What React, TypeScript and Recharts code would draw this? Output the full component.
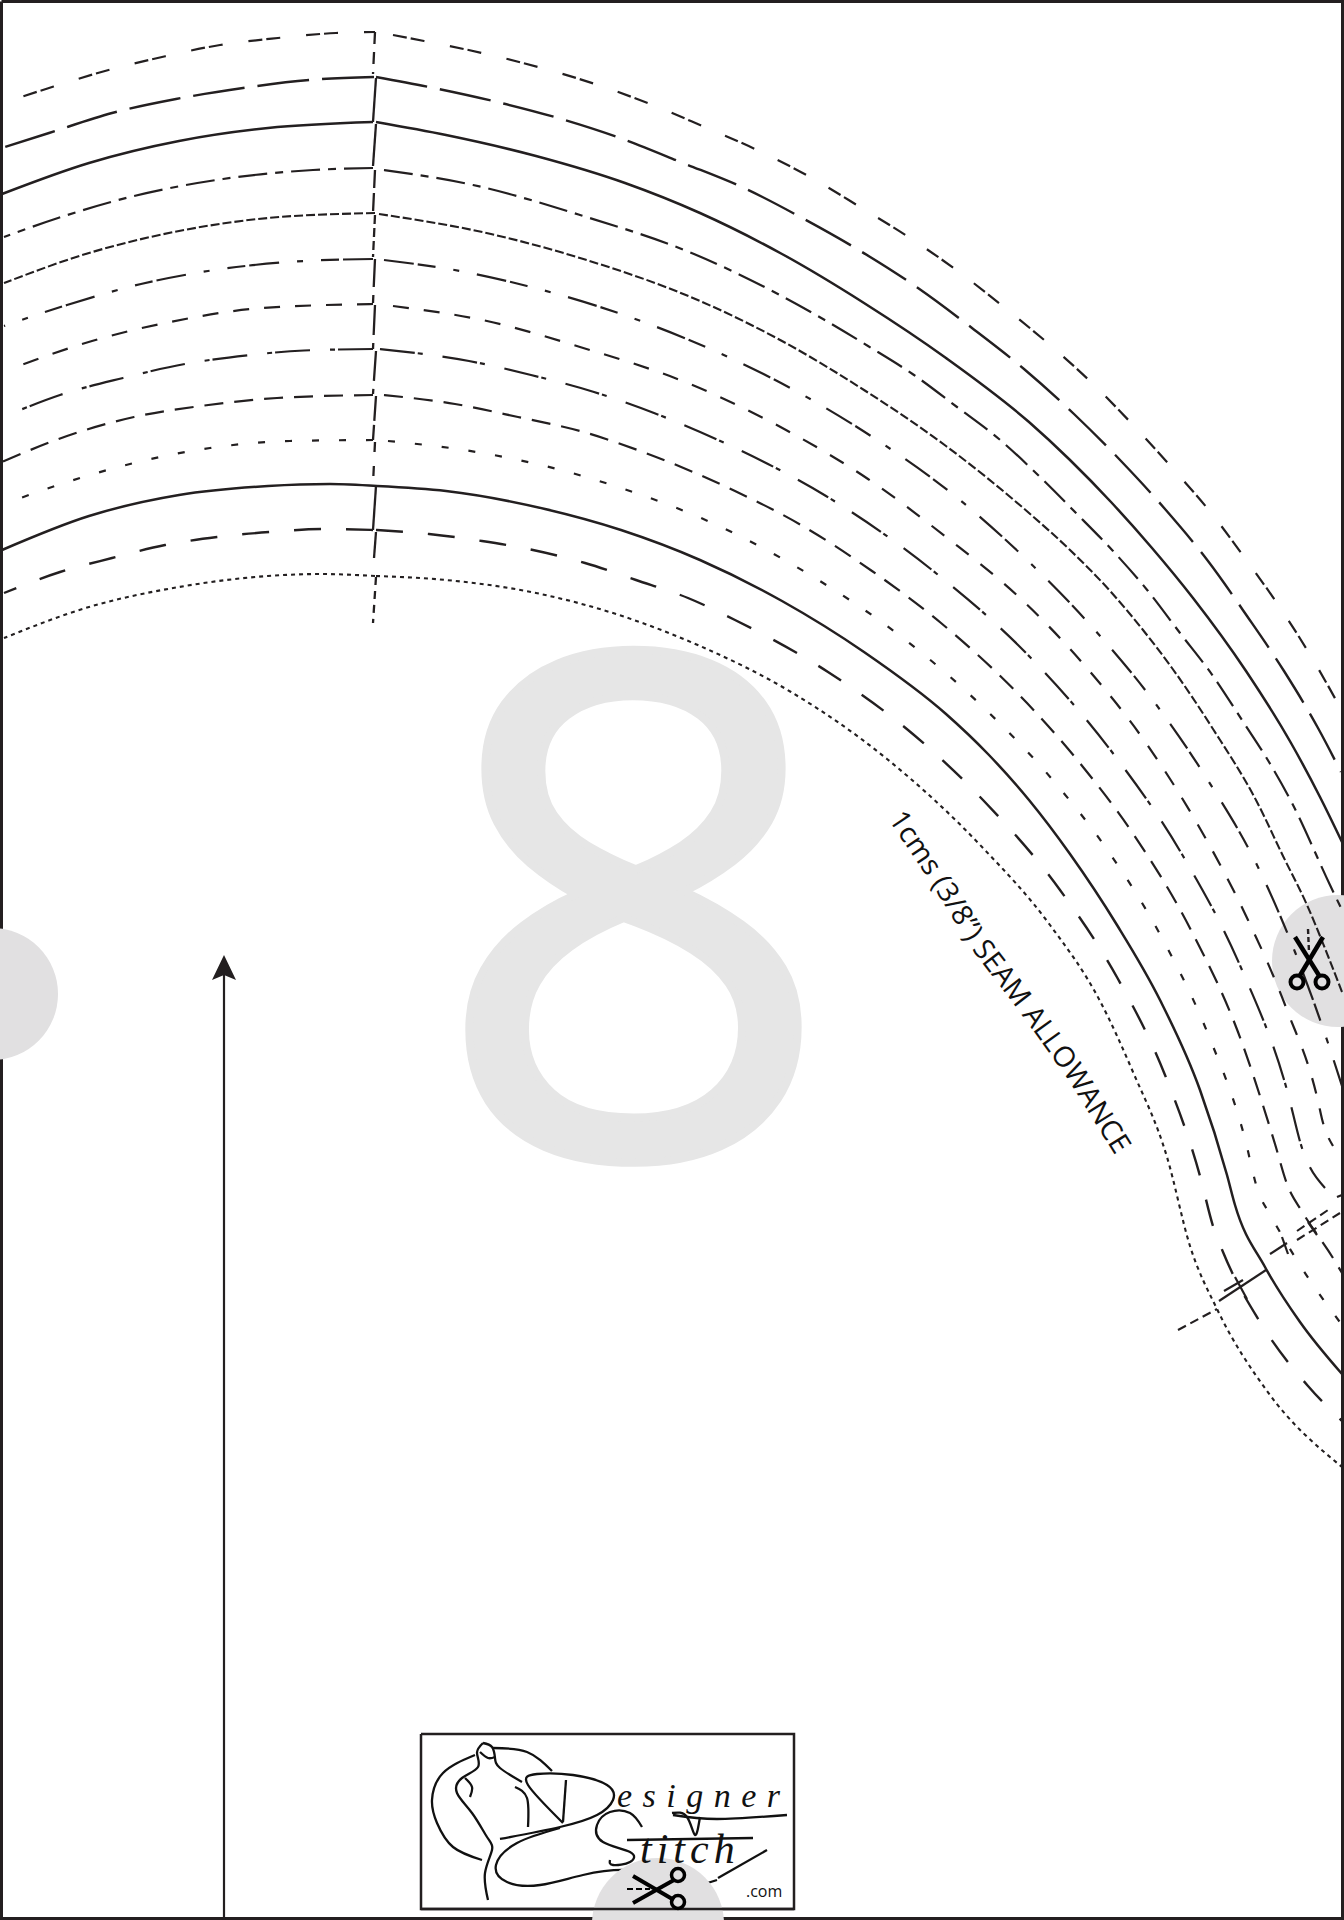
import React from 'react';
import { LineChart, Line, XAxis, YAxis } from 'recharts';

type Pt = [number, number];

const INK = '#231f20';
const SHADE = '#e1e0e1';

// seam curves, each side starts at the centre fold
const C1_L: Pt[] = [[375, 32], [336, 33], [278, 38], [220, 45], [162, 57], [105, 71], [49, 88], [18, 98]];
const C1_R: Pt[] = [[393, 35], [424, 41], [482, 53], [538, 67], [595, 84], [650, 104], [700, 125], [757, 150], [810, 177], [860, 207], [910, 238], [959, 272], [1005, 308], [1050, 345], [1093, 384], [1134, 426], [1174, 470], [1212, 514], [1247, 561], [1281, 609], [1312, 658], [1341, 709]];
const C2_L: Pt[] = [[374, 77], [309, 80], [243, 88], [176, 99], [112, 113], [49, 133], [2, 148]];
const C2_R: Pt[] = [[376, 77], [429, 87], [493, 101], [558, 118], [620, 138], [683, 163], [744, 188], [804, 219], [862, 252], [918, 288], [972, 328], [1024, 369], [1074, 414], [1121, 461], [1165, 509], [1208, 561], [1247, 616], [1284, 671], [1318, 728], [1341, 772]];
const C3_L: Pt[] = [[373, 122], [268, 128], [179, 141], [89, 163], [2, 194]];
const C3_R: Pt[] = [[376, 122], [446, 135], [536, 156], [625, 183], [700, 213], [782, 254], [864, 303], [946, 358], [1029, 422], [1070, 460], [1111, 502], [1152, 548], [1193, 598], [1246, 671], [1291, 743], [1320, 797], [1342, 842]];
const C4_L: Pt[] = [[373, 168], [313, 170], [223, 179], [134, 196], [58, 218], [4, 237]];
const C4_R: Pt[] = [[384, 170], [473, 185], [580, 215], [694, 254], [776, 293], [823, 319], [868, 346], [914, 375], [957, 407], [999, 439], [1038, 475], [1076, 513], [1113, 551], [1148, 591], [1180, 633], [1213, 676], [1242, 720], [1269, 762], [1292, 803], [1330, 885], [1342, 910]];
const C5_L: Pt[] = [[375, 213], [268, 218], [179, 231], [89, 253], [4, 283]];
const C5_R: Pt[] = [[379, 214], [491, 234], [580, 258], [700, 301], [782, 341], [864, 390], [946, 446], [1029, 513], [1070, 550], [1111, 592], [1143, 630], [1172, 668], [1213, 729], [1257, 802], [1283, 856], [1307, 905], [1328, 956], [1342, 992]];
const C6_L: Pt[] = [[373, 259], [304, 261], [208, 271], [141, 284], [67, 305], [4, 326]];
const C6_R: Pt[] = [[384, 260], [460, 271], [527, 286], [621, 314], [708, 348], [794, 390], [877, 440], [955, 496], [1026, 559], [1093, 628], [1155, 703], [1209, 782], [1257, 865], [1295, 952], [1328, 1043], [1342, 1086]];
const C7_L: Pt[] = [[373, 304], [263, 308], [170, 322], [92, 341], [16, 367]];
const C7_R: Pt[] = [[393, 306], [487, 321], [580, 347], [685, 382], [786, 430], [868, 479], [946, 537], [1020, 598], [1086, 667], [1146, 743], [1198, 825], [1248, 920], [1287, 1010], [1318, 1101], [1322, 1119], [1333, 1146]];
const C8_L: Pt[] = [[373, 349], [304, 350.5], [250, 355], [185, 364], [123, 378], [60, 395], [20, 410]];
const C8_R: Pt[] = [[380, 349], [469, 361], [531, 375], [594, 392], [654, 413], [731, 446], [826, 496], [932, 570], [1028, 655], [1112, 752], [1183, 856], [1242, 970], [1287, 1090], [1302, 1148], [1325, 1188]];
const C9_L: Pt[] = [[373, 395], [277, 398], [201, 406], [134, 417], [67, 436], [2, 462]];
const C9_R: Pt[] = [[384, 395], [455, 404], [518, 417], [580, 431], [643, 452], [735, 491], [801, 525], [872, 571], [941, 623], [1027, 703], [1083, 767], [1134, 835], [1192, 932], [1238, 1032], [1275, 1144], [1287, 1184], [1303, 1213], [1333, 1258], [1342, 1273]];
const C10_L: Pt[] = [[373, 440], [290, 441], [210, 448], [134, 463], [58, 485], [4, 504]];
const C10_R: Pt[] = [[388, 441], [464, 450], [545, 466], [621, 488], [721, 527], [815, 578], [903, 638], [983, 707], [1057, 785], [1106, 848], [1162, 938], [1208, 1034], [1244, 1135], [1258, 1191], [1271, 1216], [1298, 1262], [1342, 1325]];
const C11_L: Pt[] = [[377, 486], [330, 484], [268, 486], [179, 495], [89, 516], [2, 550]];
const C11_R: Pt[] = [[377, 486], [446, 491], [545, 509], [621, 530], [700, 560], [782, 601], [864, 652], [946, 714], [988, 754], [1029, 800], [1070, 854], [1117, 925], [1160, 1000], [1200, 1090], [1227, 1175], [1235, 1205], [1265, 1267], [1300, 1322], [1342, 1374]];
const C12_L: Pt[] = [[373, 530], [324, 529], [270, 532], [217, 537], [165, 545], [112, 558], [60, 572], [4, 593]];
const C12_R: Pt[] = [[376, 530], [429, 534], [482, 541], [533, 550], [585, 563], [636, 580], [688, 598], [735, 620], [828, 672], [914, 735], [983, 800], [1060, 890], [1118, 979], [1165, 1075], [1200, 1176], [1213, 1226], [1223, 1252], [1260, 1322], [1308, 1386], [1342, 1421]];
const C13_L: Pt[] = [[375, 576], [321, 574], [268, 576], [179, 587], [89, 607], [4, 638]];
const C13_R: Pt[] = [[376, 576], [446, 580], [536, 593], [625, 617], [700, 646], [791, 692], [887, 759], [983, 848], [1050, 925], [1100, 1001], [1133, 1072], [1167, 1157], [1190, 1246], [1217, 1309], [1267, 1391], [1342, 1467]];

// centre fold, one short piece between each pair of curves
const FOLD: Pt[][] = [
  [[375, 32], [373, 74]], [[376, 78], [373, 122]], [[376, 124], [373, 166]], [[375, 170], [373, 213]],
  [[375, 215], [373, 257]], [[375, 259], [373, 303]], [[375, 305], [373, 349]], [[376, 351], [373, 394]],
  [[376, 396], [373, 440]], [[375, 442], [373, 484]], [[376, 486], [373, 530]], [[376, 532], [374, 558]],
  [[376, 577], [373, 623]],
];
const FOLD_DASH = ['12 8', '', '', '18 5', '9 4', '28 8', '30 8', '30 8', '25 4', '10 14', '', '', '8 6'];

const NOTCH_SOLID: Pt[][] = [
  [[1219, 1301], [1266, 1270]], [[1224, 1291], [1243, 1280]], [[1235, 1277], [1247, 1299]],
  [[1270, 1254], [1287, 1243]], [[1282, 1237], [1288, 1254]], [[1308, 1222], [1317, 1235]],
  [[1337, 1197], [1342, 1195]],
];
const NOTCH_DASHED: Pt[][] = [
  [[1178, 1330], [1217, 1309]], [[1297, 1240], [1340, 1213]], [[1297, 1231], [1328, 1210]],
];

const FRAME: Pt[] = [[1.5, 1.5], [1342.5, 1.5], [1342.5, 1918.5], [1.5, 1918.5], [1.5, 1.5]];
const GRAIN: Pt[] = [[224, 970], [224, 1920]];
const GRAIN_TIP: Pt[] = [[224, 955]];
const SPOTS: Pt[] = [[-8, 994], [1338, 961]];
const LOGO_SPOT: Pt = [658, 1924];

const CUT_BLADES: Pt[][] = [[[1295, 937], [1320, 977]], [[1323, 937], [1299, 977]]];
const CUT_RINGS: Pt[] = [[1297, 982], [1322, 982]];
const CUT_GUIDE: Pt[] = [[1308, 929], [1309, 952]];

const LOGO_BOX: Pt[] = [[421, 1734], [794, 1734], [794, 1909], [421, 1909], [421, 1734]];
const LOGO_STROKES: Pt[][] = [
  [[475, 1755], [443, 1773], [432, 1800], [437, 1823], [453, 1847], [482, 1860]],
  [[483, 1743], [477, 1753], [478, 1767], [462, 1778], [457, 1793], [472, 1813], [487, 1837], [492, 1850], [485, 1873], [488, 1900]],
  [[483, 1743], [492, 1747], [495, 1758], [500, 1768], [522, 1782]],
  [[480, 1752], [488, 1758], [495, 1757]],
  [[493, 1748], [527, 1752], [552, 1771]],
  [[465, 1778], [472, 1787], [470, 1797]],
  [[515, 1787], [527, 1798], [528, 1827]],
  [[563, 1823], [528, 1785], [537, 1774], [573, 1775], [607, 1785], [613, 1800], [597, 1815], [560, 1827], [500, 1839]],
  [[566, 1780], [563, 1822]],
  [[560, 1828], [517, 1843], [496, 1865], [507, 1882], [540, 1885], [583, 1875], [627, 1870], [667, 1877], [693, 1885], [717, 1880]],
  [[718, 1878], [767, 1850]],
  [[642, 1827], [630, 1813], [610, 1812], [597, 1825], [603, 1842], [630, 1852], [630, 1862], [613, 1865], [610, 1860]],
  [[672, 1813], [687, 1817], [695, 1835], [700, 1817]],
  [[673, 1815], [717, 1819], [787, 1815]],
  [[627, 1840], [753, 1838]],
];
const LOGO_BLADES: Pt[][] = [[[633, 1876], [674, 1900]], [[633, 1903], [674, 1880]]];
const LOGO_RINGS: Pt[] = [[678, 1875], [678, 1902]];
const LOGO_GUIDE: Pt[] = [[627, 1889], [650, 1889]];

const SEAM_LABEL = '1cms (3/8”) SEAM ALLOWANCE';
const SEAM_BASELINE: Pt[] = [[888, 819], [929, 880], [973, 951], [1019, 1011], [1065, 1075], [1140, 1195]];

const BIG_NUMBER = { text: '8', at: [634, 1156] as Pt };
const LOGO_TEXTS: { text: string; at: Pt; size: number; family: string; italic?: boolean; spacing?: number }[] = [
  { text: 'esigner', at: [617, 1807], size: 34, family: 'Liberation Serif', italic: true, spacing: 10.5 },
  { text: 'titch', at: [640, 1863], size: 42, family: 'Liberation Serif', italic: true, spacing: 5 },
  { text: '.com', at: [746, 1897], size: 16, family: 'Open Sans' },
];

// each curve: left half, right half, dash pattern, width
const CURVES: { left: Pt[]; right: Pt[]; dash: string; width: number; leftOffset?: number }[] = [
  { left: C1_L, right: C1_R, dash: '14 4 14 26', width: 2.2, leftOffset: 21 },
  { left: C2_L, right: C2_R, dash: '52 13', width: 2.4 },
  { left: C3_L, right: C3_R, dash: '', width: 2.5 },
  { left: C4_L, right: C4_R, dash: '29 8 8 8', width: 2.2 },
  { left: C5_L, right: C5_R, dash: '9 3', width: 2.1 },
  { left: C6_L, right: C6_R, dash: '30 4 18 18 6 18', width: 2.2 },
  { left: C7_L, right: C7_R, dash: '16 15', width: 2.2 },
  { left: C8_L, right: C8_R, dash: '35 3 5 20', width: 2.2 },
  { left: C9_L, right: C9_R, dash: '19 11', width: 2.2 },
  { left: C10_L, right: C10_R, dash: '7 20', width: 2.2 },
  { left: C11_L, right: C11_R, dash: '', width: 2.5 },
  { left: C12_L, right: C12_R, dash: '27 25', width: 2.4 },
  { left: C13_L, right: C13_R, dash: '4 4', width: 2.1 },
];

const rows = (pts: Pt[]) => pts.map(([x, y]) => ({ x, y }));

const stroke = (
  key: string,
  pts: Pt[],
  width: number,
  dash = '',
  type: 'monotone' | 'linear' | 'natural' = 'linear',
  color = INK,
  offset?: number,
) => (
  <Line
    key={key}
    data={rows(pts)}
    dataKey="y"
    type={type}
    stroke={color}
    strokeWidth={width}
    strokeDasharray={dash || undefined}
    strokeDashoffset={offset}
    dot={false}
    activeDot={false}
    legendType="none"
    isAnimationActive={false}
  />
);

// dots are painted above every line, so the grey spots are round-capped strokes instead
const spot = (key: string, [x, y]: Pt) => (
  <Line
    key={key}
    data={rows([[x, y], [x + 0.01, y]])}
    dataKey="y"
    stroke={SHADE}
    strokeWidth={132}
    strokeLinecap="round"
    dot={false}
    activeDot={false}
    legendType="none"
    isAnimationActive={false}
  />
);

const dots = (key: string, pts: Pt[], render: (p: any) => React.ReactElement) => (
  <Line
    key={key}
    data={rows(pts)}
    dataKey="y"
    stroke="none"
    dot={render}
    activeDot={false}
    legendType="none"
    isAnimationActive={false}
  />
);

const App = () => (
  <div style={{ position: 'absolute', left: 0, top: 0, width: 1344, height: 1920, background: '#fff' }}>
    <LineChart width={1344} height={1920} margin={{ top: 0, right: 0, bottom: 0, left: 0 }}>
      <XAxis dataKey="x" type="number" domain={[0, 1344]} hide allowDataOverflow />
      <YAxis type="number" domain={[0, 1920]} reversed hide width={0} allowDataOverflow />

      {stroke('frame', FRAME, 3)}
      {SPOTS.map((s, i) => spot(`spot${i}`, s))}

      {dots('big', [BIG_NUMBER.at], (p) => (
        <text
          key="big"
          x={p.cx}
          y={p.cy}
          fontSize={699}
          fontFamily="Open Sans"
          fill="#e6e6e6"
          stroke="#e6e6e6"
          strokeWidth={8}
          textAnchor="middle"
        >
          {BIG_NUMBER.text}
        </text>
      ))}

      {CURVES.map((c, i) => stroke(`l${i}`, c.left, c.width, c.dash, 'monotone', INK, c.leftOffset))}
      {CURVES.map((c, i) => stroke(`r${i}`, c.right, c.width, c.dash, 'monotone'))}
      {FOLD.map((f, i) => stroke(`fold${i}`, f, 2.3, FOLD_DASH[i]))}
      {NOTCH_SOLID.map((n, i) => stroke(`ns${i}`, n, 2.2))}
      {NOTCH_DASHED.map((n, i) => stroke(`nd${i}`, n, 2.1, '9 5'))}

      {stroke('grain', GRAIN, 2.2)}
      {dots('tip', GRAIN_TIP, (p) => (
        <path key="tip" d={`M${p.cx} ${p.cy}l12 25l-12 -5l-12 5z`} fill={INK} />
      ))}

      {CUT_BLADES.map((b, i) => stroke(`blade${i}`, b, 4.5, '', 'linear', '#000'))}
      {stroke('guide', CUT_GUIDE, 2.4, '5 3')}
      {dots('rings', CUT_RINGS, (p) => (
        <circle key={p.index} cx={p.cx} cy={p.cy} r={6.5} fill="none" stroke="#000" strokeWidth={4} />
      ))}

      {dots('seam', SEAM_BASELINE, (p) => {
        if (p.index !== 0) return <g key={p.index} />;
        const d = p.points.map((q: any, i: number) => `${i ? 'L' : 'M'}${q.x} ${q.y}`).join('');
        return (
          <g key="seam">
            <path id="seam-baseline" d={d} fill="none" />
            <text fontSize={28.5} fontFamily="Open Sans" fill="#111">
              <textPath href="#seam-baseline">{SEAM_LABEL}</textPath>
            </text>
          </g>
        );
      })}

      {stroke('logobox', LOGO_BOX, 2.5)}
      {LOGO_STROKES.map((s, i) => stroke(`logo${i}`, s, 2.3, '', 'natural', '#111'))}
      {spot('logospot', LOGO_SPOT)}
      {stroke('logoboxedge', [LOGO_BOX[2], LOGO_BOX[3]], 2.5)}
      {LOGO_BLADES.map((b, i) => stroke(`lb${i}`, b, 4, '', 'linear', '#000'))}
      {stroke('lguide', LOGO_GUIDE, 2, '6 3', 'linear', '#000')}
      {dots('lrings', LOGO_RINGS, (p) => (
        <circle key={p.index} cx={p.cx} cy={p.cy} r={6.5} fill="none" stroke="#000" strokeWidth={3.5} />
      ))}
      {LOGO_TEXTS.map((t, i) =>
        dots(`t${i}`, [t.at], (p) => (
          <text
            key="t"
            x={p.cx}
            y={p.cy}
            fontSize={t.size}
            fontFamily={t.family}
            fontStyle={t.italic ? 'italic' : 'normal'}
            letterSpacing={t.spacing}
            fill="#111"
          >
            {t.text}
          </text>
        )),
      )}
    </LineChart>
  </div>
);

export default App;
